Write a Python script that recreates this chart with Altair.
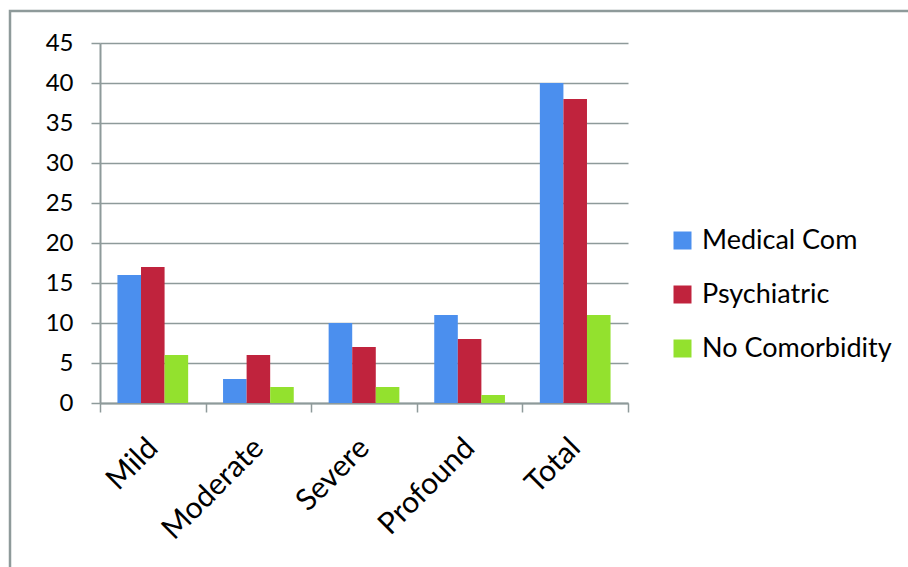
import altair as alt
import pandas as pd

# Patient counts by severity level and comorbidity type
levels = ["Mild", "Moderate", "Severe", "Profound", "Total"]
series = ["Medical Com", "Psychiatric", "No Comorbidity"]
medical = [16, 3, 10, 11, 40]
psychiatric = [17, 6, 7, 8, 38]
no_comorbidity = [6, 2, 2, 1, 11]
colors = ["#4B8FEE", "#C0233D", "#93E12E"]
y_ticks = [0, 5, 10, 15, 20, 25, 30, 35, 40, 45]

rows = []
for name, vals in zip(series, [medical, psychiatric, no_comorbidity]):
    for lvl, v in zip(levels, vals):
        rows.append({"level": lvl, "series": name, "value": v})
df = pd.DataFrame(rows)

FONT = "Lato"
GRID = "#8E9A9A"

bars = alt.Chart(df).mark_bar().encode(
    x=alt.X(
        "level:N",
        sort=levels,
        title=None,
        scale=alt.Scale(paddingInner=0, paddingOuter=0),
        axis=alt.Axis(
            labelAngle=-45,
            labelAlign="right",
            labelBaseline="middle",
            labelFont=FONT,
            labelFontSize=30,
            labelColor="#000000",
            labelPadding=31,
            tickBand="extent",
            tickSize=9,
            tickColor=GRID,
            tickWidth=1.5,
            domainColor=GRID,
            domainWidth=2,
            grid=False,
        ),
    ),
    xOffset=alt.XOffset(
        "series:N",
        sort=series,
        scale=alt.Scale(paddingInner=0, paddingOuter=0.74),
    ),
    y=alt.Y(
        "value:Q",
        title=None,
        scale=alt.Scale(domain=[0, 45], nice=False),
        axis=alt.Axis(
            values=y_ticks,
            labelFont=FONT,
            labelFontSize=24,
            labelColor="#000000",
            labelPadding=18,
            tickSize=9,
            tickColor=GRID,
            tickWidth=1.5,
            domainColor=GRID,
            domainWidth=2,
            grid=True,
            gridColor=GRID,
            gridWidth=1.6,
        ),
    ),
    color=alt.Color(
        "series:N",
        sort=series,
        scale=alt.Scale(domain=series, range=colors),
        legend=alt.Legend(
            title=None,
            orient="none",
            legendX=569,
            legendY=184,
            symbolType="square",
            symbolSize=324,
            symbolStrokeWidth=0,
            labelFont=FONT,
            labelFontSize=27,
            labelColor="#000000",
            labelOffset=6,
            labelLimit=300,
            rowPadding=26,
        ),
    ),
)

# Outer chart frame (only its top and left edges fall inside the canvas)
frame = alt.Chart(pd.DataFrame({"f": [0]})).mark_rect(
    fill=None, stroke=GRID, strokeWidth=2.5
).encode(
    x=alt.value(-90), x2=alt.value(900),
    y=alt.value(-32), y2=alt.value(700),
)

chart = alt.layer(frame, bars).properties(
    width=528,
    height=360,
    autosize=alt.AutoSizeParams(type="none"),
    padding={"left": 100, "top": 43, "right": 280, "bottom": 164},
    background="#FFFFFF",
).configure_view(strokeWidth=0)

chart.save("out.html", embed_options={"renderer": "svg", "actions": False})
